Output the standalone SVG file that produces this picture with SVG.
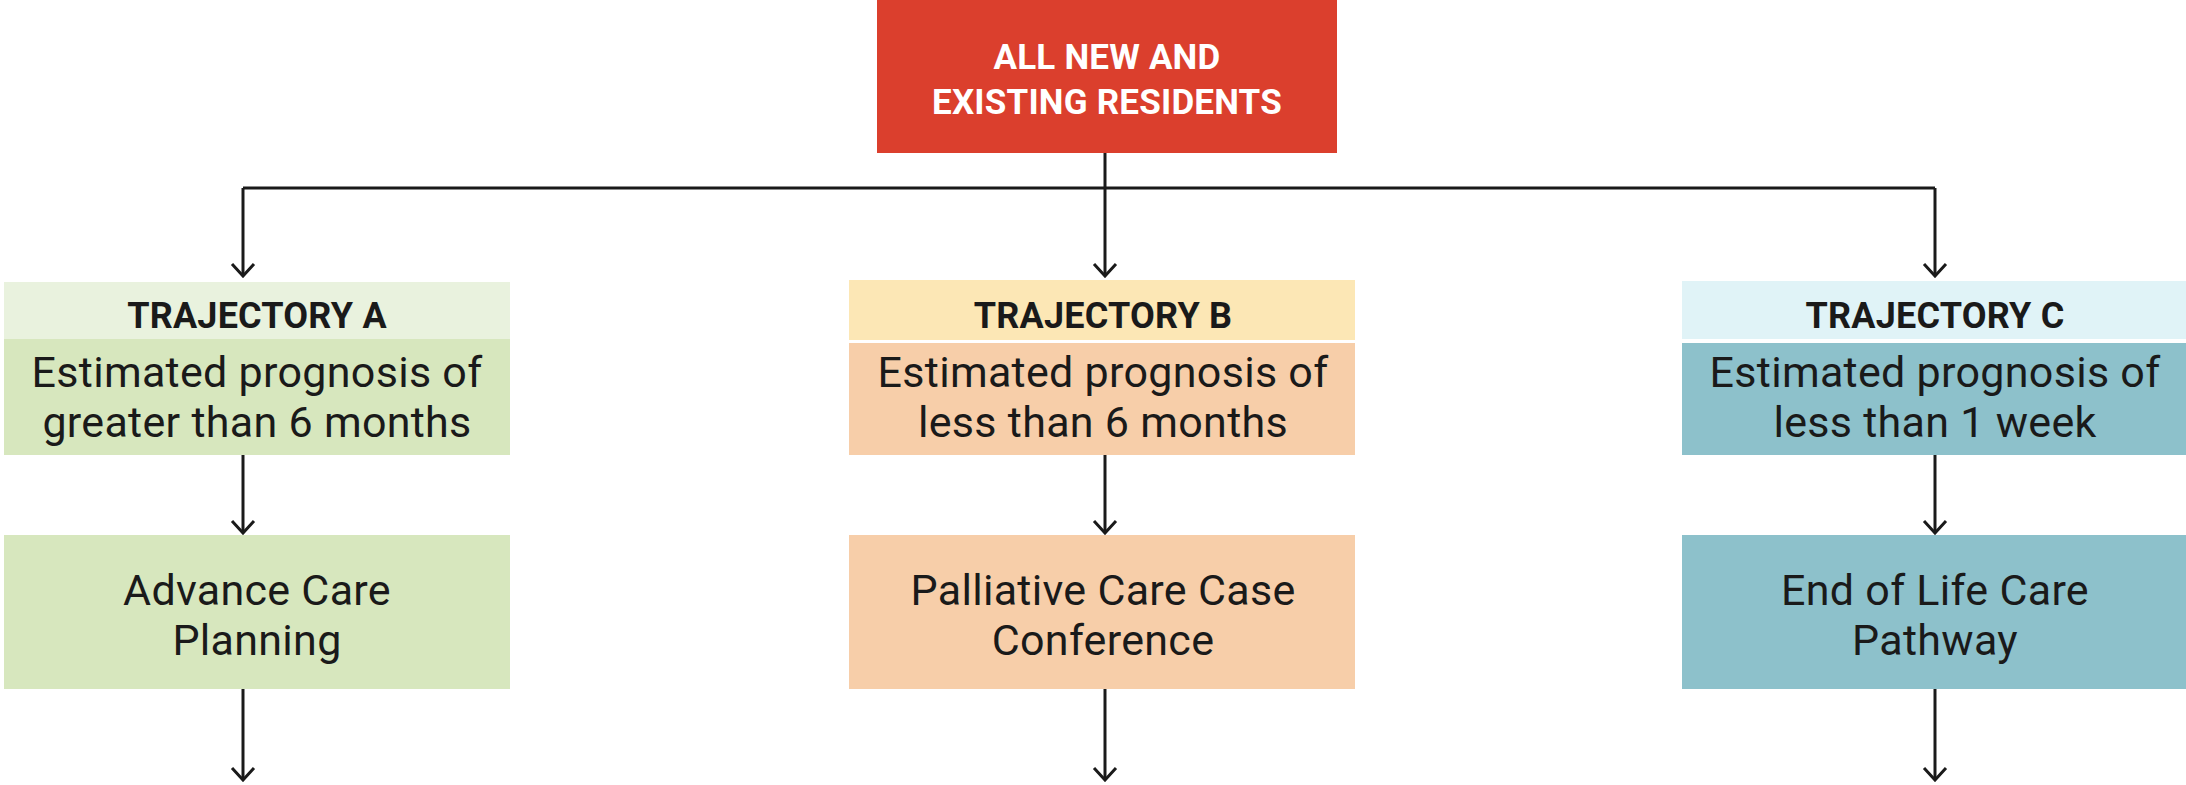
<svg xmlns="http://www.w3.org/2000/svg" width="2186" height="785" viewBox="0 0 2186 785">
<defs>
<style>
.t{font-family:Roboto,"Liberation Sans",sans-serif;text-anchor:middle;fill:#1a1a1a}
.top{font-weight:700;font-size:35px;fill:#ffffff;letter-spacing:0.2px}
.hd{font-weight:700;font-size:36px;letter-spacing:0.2px}
.bd{font-weight:400;font-size:43px;letter-spacing:0.3px}
.ln{fill:none;stroke:#1a1a1a;stroke-width:3}
.ar{marker-end:url(#chev)}
</style>
<marker id="chev" markerUnits="userSpaceOnUse" viewBox="-16 -14 18 28" refX="0" refY="0" markerWidth="18" markerHeight="28" orient="auto">
<path d="M-12,-11 L0,0 L-12,11" fill="none" stroke="#1a1a1a" stroke-width="3"/>
</marker>
</defs>
<rect width="2186" height="785" fill="#ffffff"/>
<g id="connectors">
<path class="ln" d="M1105,153 V188 M243,188 H1935"/>
<path class="ln ar" d="M243,188 V276"/>
<path class="ln ar" d="M1105,188 V276"/>
<path class="ln ar" d="M1935,188 V276"/>
<path class="ln ar" d="M243,455 V533"/>
<path class="ln ar" d="M1105,455 V533"/>
<path class="ln ar" d="M1935,455 V533"/>
<path class="ln ar" d="M243,689 V780"/>
<path class="ln ar" d="M1105,689 V780"/>
<path class="ln ar" d="M1935,689 V780"/>
</g>
<g id="all-residents">
<rect x="877" y="0" width="460" height="153" fill="#db3f2d"/>
<text class="t top" x="1107" y="69">ALL NEW AND</text>
<text class="t top" x="1107" y="114">EXISTING RESIDENTS</text>
</g>
<g id="trajectory-a">
<rect x="4" y="282" width="506" height="57" fill="#e9f2de"/>
<rect x="4" y="339" width="506" height="116" fill="#d7e7be"/>
<text class="t hd" x="257" y="328">TRAJECTORY A</text>
<text class="t bd" x="257" y="387">Estimated prognosis of</text>
<text class="t bd" x="257" y="437">greater than 6 months</text>
</g>
<g id="advance-care-planning">
<rect x="4" y="535" width="506" height="154" fill="#d7e7be"/>
<text class="t bd" x="257" y="605">Advance Care</text>
<text class="t bd" x="257" y="655">Planning</text>
</g>
<g id="trajectory-b">
<rect x="849" y="280" width="506" height="60" fill="#fce7b5"/>
<rect x="849" y="343" width="506" height="112" fill="#f7cea9"/>
<text class="t hd" x="1103" y="328">TRAJECTORY B</text>
<text class="t bd" x="1103" y="387">Estimated prognosis of</text>
<text class="t bd" x="1103" y="437">less than 6 months</text>
</g>
<g id="palliative-care">
<rect x="849" y="535" width="506" height="154" fill="#f7cea9"/>
<text class="t bd" x="1103" y="605">Palliative Care Case</text>
<text class="t bd" x="1103" y="655">Conference</text>
</g>
<g id="trajectory-c">
<rect x="1682" y="281" width="504" height="58" fill="#e0f3f7"/>
<rect x="1682" y="343" width="504" height="112" fill="#8dc1cb"/>
<text class="t hd" x="1935" y="328">TRAJECTORY C</text>
<text class="t bd" x="1935" y="387">Estimated prognosis of</text>
<text class="t bd" x="1935" y="437">less than 1 week</text>
</g>
<g id="end-of-life-care">
<rect x="1682" y="535" width="504" height="154" fill="#8dc1cb"/>
<text class="t bd" x="1935" y="605">End of Life Care</text>
<text class="t bd" x="1935" y="655">Pathway</text>
</g>
</svg>
